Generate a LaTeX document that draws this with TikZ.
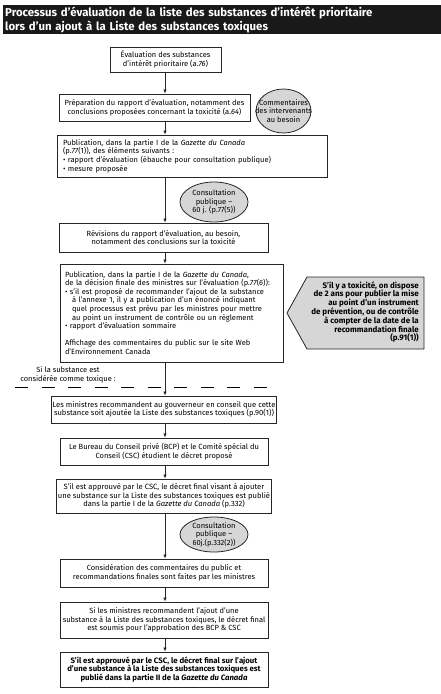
\documentclass[tikz,border=0pt]{standalone}
\usepackage{fontspec}
\setmainfont{Fira Sans}
\usepackage{tikz}
\usetikzlibrary{arrows.meta}
\usetikzlibrary{shapes.geometric}

\tikzset{
  etape/.style={draw=black!85, line width=0.9pt, fill=white, inner sep=1.5pt, align=center, font=\fontsize{7.5}{8.6}\selectfont},
  bulle/.style={ellipse, draw=black!85, line width=0.8pt, fill=black!16, inner sep=0pt},
  texte bulle/.style={align=center, inner sep=0pt, font=\fontsize{7.5}{8.4}\selectfont},
  fleche/.style={-{Latex[length=4pt,width=3.5pt]}, line width=0.7pt, draw=black!85},
}

\begin{document}
\begin{tikzpicture}[x=1pt,y=-1pt]
            \useasboundingbox (0,0) rectangle (441,694);

            \node (titre) [fill=black!90, text=white, anchor=north west, text width=434pt, minimum height=29pt, inner xsep=2pt, inner ysep=0pt, align=left, font=\fontsize{11.4}{13.8}\selectfont\bfseries] at (3,5) {Processus d'évaluation de la liste des substances d'intérêt prioritaire\\lors d'un ajout à la Liste des substances toxiques};

            \coordinate (axe) at (165,0);

            \node (lsip) [etape, minimum width=111pt, minimum height=25pt] at (165.5,59.5) {Évaluation des substances\\d'intérêt prioritaire (a.\textit{76})};

            \node (rapport) [etape, minimum width=191pt, minimum height=27pt] at (154.5,107.5) {Préparation du rapport d'évaluation, notamment des\\conclusions proposées concernant la toxicité (a.\textit{64})};

            \node (avis) [bulle, minimum width=55pt, minimum height=44pt] at (283.5,111) {};
            \node (avis-t) [texte bulle] at (avis.center) {Commentaires\\des intervenants\\au besoin};

            \node (gazette1) [etape, align=left, text width=258pt, minimum height=42pt, inner xsep=6pt] at (192,156) {Publication, dans la partie I de la \textit{Gazette du Canada}\\(p.\textit{77}(1)), des éléments suivants :\\\textbullet\ rapport d'évaluation (ébauche pour consultation publique)\\\textbullet\ mesure proposée};

            \node (consult1) [bulle, minimum width=68pt, minimum height=40pt] at (214,202) {};
            \node (consult1-t) [texte bulle] at (consult1.center) {Consultation\\publique --\\60 j. (p.77(5))};

            \node (revision) [etape, minimum width=209pt, minimum height=29pt] at (163.5,237.5) {Révisions du rapport d'évaluation, au besoin,\\notamment des conclusions sur la toxicité};

            \node (gazette2) [etape, align=left, text width=213pt, minimum height=98pt, inner xsep=5pt] at (171.5,313) {Publication, dans la partie I de la \textit{Gazette du Canada},\\de la décision finale des ministres sur l'évaluation (p.\textit{77}(\textit{6})):\\\textbullet\ s'il est proposé de recommander l'ajout de la substance\\\hspace*{7pt}à l'annexe 1, il y a publication d'un énoncé indiquant\\\hspace*{7pt}quel processus est prévu par les ministres pour mettre\\\hspace*{7pt}au point un instrument de contrôle ou un règlement\\\textbullet\ rapport d'évaluation sommaire\\[8.6pt]Affichage des commentaires du public sur le site Web\\d'Environnement Canada};

            \draw[line width=0.8pt, draw=black!85, fill=black!16] (287,313) -- (307,277) -- (424,277) -- (424,349) -- (307,349) -- cycle;
            \node (delai) [anchor=east, align=right, inner sep=0pt, font=\fontsize{8}{8.3}\selectfont\bfseries] at (419,312) {S'il y a toxicité, on dispose\\de 2 ans pour publier la mise\\au point d'un instrument\\de prévention, ou de contrôle\\à compter de la date de la\\recommandation finale\\(p.91(1))};

            \node (condition) [align=center, inner sep=0pt, font=\fontsize{7.5}{8.6}\selectfont] at (68,375) {Si la substance est\\considérée comme toxique :};
            \coordinate (seuil-g) at (15,387);
            \coordinate (seuil-d) at (268,387);
            \draw[line width=0.8pt, dash pattern=on 13pt off 13.5pt] (seuil-g) -- (seuil-d);

            \node (recommande) [etape, minimum width=208pt, minimum height=27pt, font=\fontsize{7.6}{8.6}\selectfont] at (164,409.5) {Les ministres recommandent au gouverneur en conseil que cette\\substance soit ajoutée la Liste des substances toxiques (p.90(1))};

            \node (bcp) [etape, minimum width=208pt, minimum height=27pt] at (164,451.5) {Le Bureau du Conseil privé (BCP) et le Comité spécial du\\Conseil (CSC) étudient le décret proposé};

            \node (gazette3) [etape, minimum width=208pt, minimum height=34pt, font=\fontsize{7.6}{8.6}\selectfont] at (164,496) {S'il est approuvé par le CSC, le décret final visant à ajouter\\une substance sur la Liste des substances toxiques est publié\\dans la partie I de la \textit{Gazette du Canada} (p.332)};

            \node (consult2) [bulle, minimum width=68pt, minimum height=35pt] at (214,534.5) {};
            \node (consult2-t) [texte bulle] at (consult2.center) {Consultation\\publique --\\60j.(p.332(2))};

            \node (commentaires) [etape, minimum width=208pt, minimum height=28pt] at (164,573) {Considération des commentaires du public et\\recommandations finales sont faites par les ministres};

            \node (soumis) [etape, minimum width=208pt, minimum height=36pt] at (164,620) {Si les ministres recommandent l'ajout d'une\\substance à la Liste des substances toxiques, le décret final\\est soumis pour l'approbation des BCP \& CSC};

            \node (gazette4) [etape, minimum width=208pt, minimum height=35pt, font=\fontsize{7.8}{8.8}\selectfont\bfseries] at (164,669.5) {S'il est approuvé par le CSC, le décret final sur l'ajout\\d'une substance à la Liste des substances toxiques est\\publié dans la partie II de la \textit{Gazette du Canada}};

            \draw[fleche] (axe |- lsip.south) -- (axe |- rapport.north);
            \draw[fleche] (axe |- rapport.south) -- (axe |- gazette1.north);
            \draw[fleche] (axe |- gazette1.south) -- (axe |- revision.north);
            \draw[fleche] (axe |- revision.south) -- (axe |- gazette2.north);
            \draw[fleche] (axe |- gazette2.south) -- (axe |- recommande.north);
            \draw[fleche] (axe |- recommande.south) -- (axe |- bcp.north);
            \draw[fleche] (axe |- bcp.south) -- (axe |- gazette3.north);
            \draw[fleche] (axe |- gazette3.south) -- (axe |- commentaires.north);
            \draw[fleche] (axe |- commentaires.south) -- (axe |- soumis.north);
            \draw[fleche] (axe |- soumis.south) -- (axe |- gazette4.north);
        \end{tikzpicture}
\end{document}
